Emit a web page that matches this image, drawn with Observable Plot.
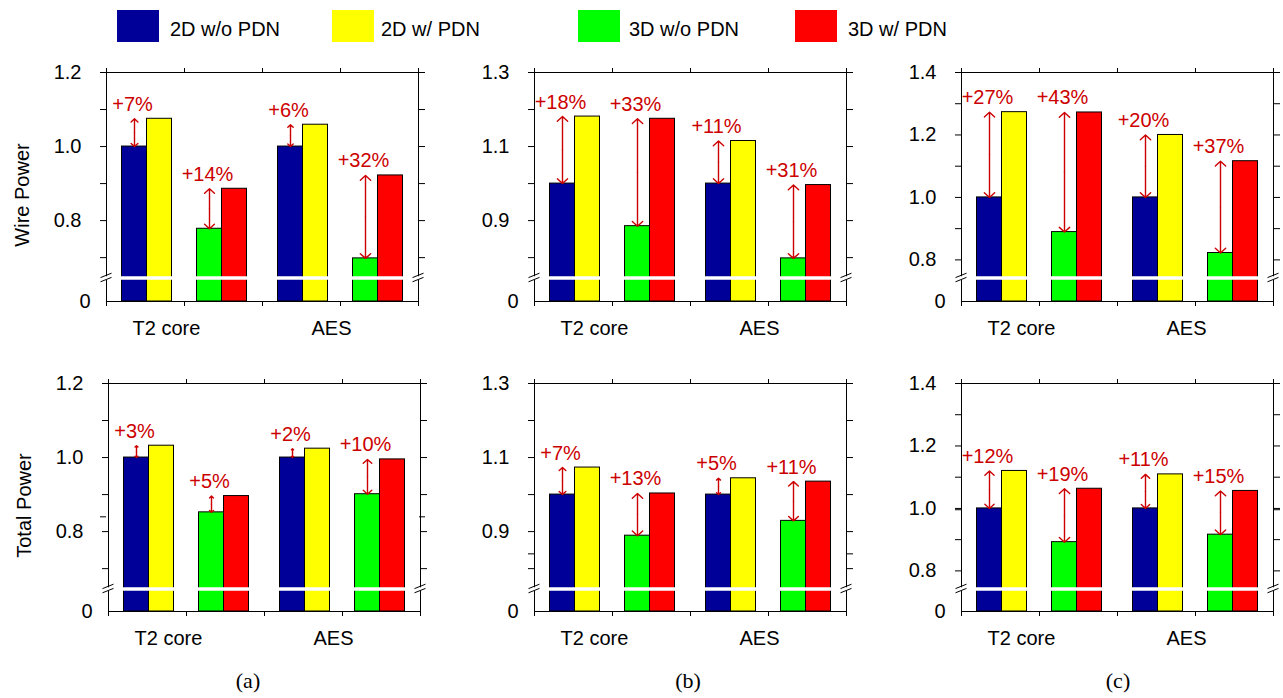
<!DOCTYPE html>
<html>
<head>
<meta charset="utf-8">
<script src="https://cdn.jsdelivr.net/npm/d3@7"></script>
<script src="https://cdn.jsdelivr.net/npm/@observablehq/plot@0.6"></script>
<style>
  html, body { margin: 0; padding: 0; background: #fff; }
  body { width: 1283px; height: 698px; position: relative; overflow: hidden;
         font-family: "Liberation Sans", Arial, sans-serif; color: #000; }
  .legend-swatch { position: absolute; top: 10px; width: 42px; height: 32px; }
  .legend-text { position: absolute; top: 19px; font-size: 20px; line-height: 20px; white-space: nowrap; }
  .panel { position: absolute; }
  .sub { position: absolute; top: 670px; font-family: "Liberation Serif", "Times New Roman", serif;
         font-size: 22px; line-height: 22px; transform: translateX(-50%); white-space: nowrap; }
</style>
</head>
<body>
<script>
// ---------------- data ----------------
const categories = ["T2 core", "AES"];
const series = ["2D w/o PDN", "2D w/ PDN", "3D w/o PDN", "3D w/ PDN"];
const seriesColors = ["#000099", "#ffff00", "#00ff00", "#ff0000"];
const rowLabels = ["Wire Power", "Total Power"];
const panelLabels = ["(a)", "(b)", "(c)"];

// Wire power (top row), values in series order
const wireA_T2 = [1.00, 1.075, 0.778, 0.886];
const wireA_AES = [1.00, 1.059, 0.698, 0.922];
const wireA_pct = ["+7%", "+14%", "+6%", "+32%"];
const wireB_T2 = [1.00, 1.181, 0.885, 1.175];
const wireB_AES = [1.00, 1.115, 0.798, 0.996];
const wireB_pct = ["+18%", "+33%", "+11%", "+31%"];
const wireC_T2 = [1.00, 1.273, 0.889, 1.272];
const wireC_AES = [1.00, 1.200, 0.822, 1.116];
const wireC_pct = ["+27%", "+43%", "+20%", "+37%"];

// Total power (bottom row)
const totalA_T2 = [1.00, 1.032, 0.852, 0.896];
const totalA_AES = [1.00, 1.024, 0.901, 0.995];
const totalA_pct = ["+3%", "+5%", "+2%", "+10%"];
const totalB_T2 = [1.00, 1.073, 0.889, 1.003];
const totalB_AES = [1.00, 1.044, 0.929, 1.035];
const totalB_pct = ["+7%", "+13%", "+5%", "+11%"];
const totalC_T2 = [1.00, 1.120, 0.892, 1.063];
const totalC_AES = [1.00, 1.109, 0.916, 1.056];
const totalC_pct = ["+12%", "+19%", "+11%", "+15%"];

// axis ticks; broken axis: 0, then upper segment from yBreak to yTop
const yTicksA = [1.2, 1.0, 0.8], yMinorA = [1.1, 0.9, 0.7], yBreakA = 0.645, yTopA = 1.2;
const yTicksB = [1.3, 1.1, 0.9], yMinorB = [1.2, 1.0, 0.8], yBreakB = 0.745, yTopB = 1.3;
const yTicksC = [1.4, 1.2, 1.0, 0.8], yMinorC = [1.3, 1.1, 0.9], yBreakC = 0.742, yTopC = 1.4;
const xTicks = [0, 0.5, 1, 1.5, 2];

// ---------------- layout ----------------
const W = 426, H = 310, mL = 106, mR = 8, mT = 25, breakLocal = 230.5;
const colLeft = [[0, 428, 855], [2, 428, 855]];
const rowTop = [47, 358];
const rowZero = [254, 253];
const catShift = [-18, -9];
const legendSwatchX = [117, 332, 578, 795];
const legendTextX = [170, 381, 629, 848];
const subX = [248, 688, 1118];
const pctColor = "#cc0000";

const slotKeys = [series[0], series[1], "gap", series[2], series[3]];
const inner = d3.scaleBand().domain(slotKeys).range([0, 1]).paddingInner(0).paddingOuter(0.62);

function breakSymbols(brk) {
  return (index, scales) => {
    const g = d3.create("svg:g").attr("stroke", "#000").attr("stroke-width", 1).attr("fill", "none");
    const yb = scales.y(brk);
    for (const xv of [0, 2]) {
      const xp = scales.x(xv);
      for (const o of [-2.1, 2.1]) {
        g.append("line")
          .attr("x1", xp - 5.5).attr("y1", yb + o + 2.2)
          .attr("x2", xp + 5.5).attr("y2", yb + o - 2.2);
      }
    }
    return g.node();
  };
}

function panel(row, col, t2, aes, pct, ticks, minor, yBreak, yTop) {
  const vals = [t2, aes];
  const zero = rowZero[row];
  // broken axis: linear above yBreak, compressed between 0 and yBreak
  const ppu = (breakLocal - mT) / (yTop - yBreak);
  const gapV = (zero - breakLocal) / ppu;
  const brokenAxis = v => v >= yBreak ? v : yBreak - (yBreak - v) * gapV / yBreak;

  const bars = categories.flatMap((c, ci) => series.map((s, si) => ({ci, series: s, value: vals[ci][si]})));
  const pairs = categories.flatMap((c, ci) => [[0, 1], [2, 3]].map(([b, t], k) => ({
    ci, baseSeries: series[b], base: vals[ci][b], target: vals[ci][t], label: pct[ci * 2 + k]
  })));
  const bx1 = d => d.ci + inner(d.series);
  const bx2 = d => d.ci + inner(d.series) + inner.bandwidth();
  const ax = d => d.ci + inner(d.baseSeries) + inner.bandwidth() / 2;
  const mid = d => (d.base + d.target) / 2;

  const marks = [
    Plot.frame({stroke: "#000"}),
    Plot.axisY({ticks: ticks, tickSize: 6, tickPadding: 19, tickFormat: d => d.toFixed(1), fontSize: 20, label: null}),
    Plot.axisY({ticks: [...minor, 0], tickSize: 6, tickFormat: () => "", label: null}),
    Plot.axisY({anchor: "right", ticks: [...ticks, ...minor, 0], tickSize: 6, tickFormat: () => "", label: null}),
    Plot.axisX({anchor: "bottom", ticks: xTicks, tickSize: 5, tickFormat: () => "", label: null}),
    Plot.axisX({anchor: "top", ticks: xTicks, tickSize: 5, tickFormat: () => "", label: null}),
    Plot.text(["0"], {x: 0, y: 0, text: d => d, dx: -16, textAnchor: "end", fontSize: 20}),
    Plot.rectY(bars, {x1: bx1, x2: bx2, y1: 0, y2: "value", fill: "series", stroke: "#000", strokeWidth: 1}),
    Plot.ruleY([yBreak], {stroke: "#fff", strokeWidth: 3.5, insetLeft: -4, insetRight: -4}),
    breakSymbols(yBreak),
    Plot.arrow(pairs, {x1: ax, x2: ax, y1: mid, y2: "target", stroke: pctColor, strokeWidth: 1.4, headLength: 7.5, headAngle: 95}),
    Plot.arrow(pairs, {x1: ax, x2: ax, y1: mid, y2: "base", stroke: pctColor, strokeWidth: 1.4, headLength: 7.5, headAngle: 95}),
    Plot.text(pairs, {x: ax, y: "target", text: "label", dy: -8, dx: -2, lineAnchor: "bottom", fill: pctColor, fontSize: 20}),
    ...categories.map((c, ci) => Plot.text([c], {x: ci + 0.5, y: 0, text: d => d, dy: 33, dx: catShift[ci], lineAnchor: "bottom", fontSize: 20}))
  ];
  if (col === 0) {
    marks.push(Plot.text([rowLabels[row]], {frameAnchor: "left", text: d => d, rotate: -90, textAnchor: "middle", lineAnchor: "middle", dx: -84, dy: 8, fontSize: 20}));
  }

  const svg = Plot.plot({
    width: W, height: H,
    marginLeft: mL, marginRight: mR, marginTop: mT, marginBottom: H - zero,
    x: {domain: [0, 2]},
    y: {domain: [yBreak - gapV, yTop], transform: brokenAxis},
    color: {domain: series, range: seriesColors},
    style: "background: transparent; max-width: none; overflow: visible; font-family: 'Liberation Sans', Arial, sans-serif; font-size: 20px; color: #000;",
    marks
  });
  const div = document.createElement("div");
  div.className = "panel";
  div.style.left = colLeft[row][col] + "px";
  div.style.top = rowTop[row] + "px";
  div.style.width = W + "px";
  div.style.height = H + "px";
  div.appendChild(svg);
  document.body.appendChild(div);
}

panel(0, 0, wireA_T2, wireA_AES, wireA_pct, yTicksA, yMinorA, yBreakA, yTopA);
panel(0, 1, wireB_T2, wireB_AES, wireB_pct, yTicksB, yMinorB, yBreakB, yTopB);
panel(0, 2, wireC_T2, wireC_AES, wireC_pct, yTicksC, yMinorC, yBreakC, yTopC);
panel(1, 0, totalA_T2, totalA_AES, totalA_pct, yTicksA, yMinorA, yBreakA, yTopA);
panel(1, 1, totalB_T2, totalB_AES, totalB_pct, yTicksB, yMinorB, yBreakB, yTopB);
panel(1, 2, totalC_T2, totalC_AES, totalC_pct, yTicksC, yMinorC, yBreakC, yTopC);

// legend
series.forEach((s, i) => {
  const sw = document.createElement("div");
  sw.className = "legend-swatch";
  sw.style.left = legendSwatchX[i] + "px";
  sw.style.background = seriesColors[i];
  document.body.appendChild(sw);
  const tx = document.createElement("div");
  tx.className = "legend-text";
  tx.style.left = legendTextX[i] + "px";
  tx.textContent = s;
  document.body.appendChild(tx);
});

// sub-figure labels
panelLabels.forEach((l, i) => {
  const d = document.createElement("div");
  d.className = "sub";
  d.style.left = subX[i] + "px";
  d.textContent = l;
  document.body.appendChild(d);
});
</script>
</body>
</html>
